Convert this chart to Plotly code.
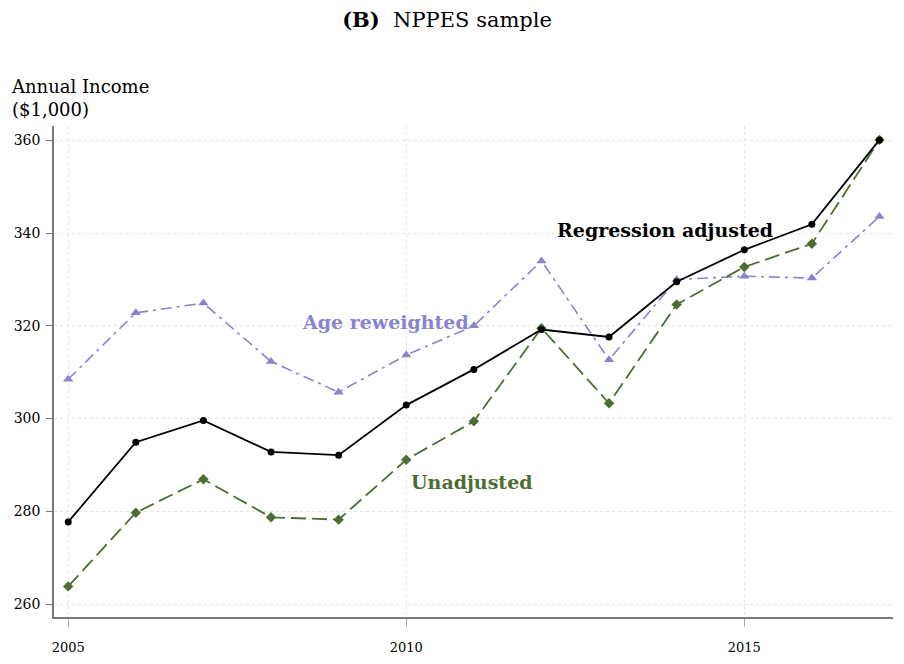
import plotly.graph_objects as go

years = list(range(2005, 2018))
regression_adjusted = [277.7, 294.9, 299.6, 292.8, 292.1, 302.9, 310.6, 319.2, 317.6, 329.5, 336.4, 341.9, 360.1]
age_reweighted = [308.5, 322.8, 324.9, 312.3, 305.7, 313.7, 320.0, 334.0, 312.7, 330.0, 330.7, 330.3, 343.6]
unadjusted = [263.8, 279.7, 286.9, 278.7, 278.2, 291.1, 299.4, 319.5, 303.3, 324.6, 332.7, 337.7, 360.1]

x_ticks = [2005, 2010, 2015]
y_ticks = [260, 280, 300, 320, 340, 360]

BLACK = "#000000"
PURPLE = "#8a84ce"
GREEN = "#4d6e32"
FONT = "DejaVu Serif"

fig = go.Figure()

fig.add_trace(go.Scatter(
    x=years, y=age_reweighted, mode="lines+markers", name="Age reweighted",
    line=dict(color=PURPLE, width=1.6, dash="11px,5px,3px,5px"),
    marker=dict(symbol="triangle-up", size=9, color=PURPLE),
))
fig.add_trace(go.Scatter(
    x=years, y=unadjusted, mode="lines+markers", name="Unadjusted",
    line=dict(color=GREEN, width=1.8, dash="15px,6px"),
    marker=dict(symbol="diamond", size=8, color=GREEN),
))
fig.add_trace(go.Scatter(
    x=years, y=regression_adjusted, mode="lines+markers", name="Regression adjusted",
    line=dict(color=BLACK, width=1.8),
    marker=dict(symbol="circle", size=7, color=BLACK),
))

# in-plot series labels
labels = [
    ("<b>Regression adjusted</b>", 2013.83, 340.7, BLACK),
    ("<b>Age reweighted</b>", 2009.69, 320.8, PURPLE),
    ("<b>Unadjusted</b>", 2010.97, 286.4, GREEN),
]
for text, lx, ly, col in labels:
    fig.add_annotation(x=lx, y=ly, text=text, showarrow=False,
                       font=dict(family=FONT, size=19, color=col))

fig.add_annotation(xref="paper", yref="paper", x=-0.054, y=1.0, yshift=4,
                   xanchor="left", yanchor="bottom", align="left",
                   text="Annual Income<br>($1,000)", showarrow=False,
                   font=dict(family=FONT, size=18, color=BLACK))

fig.update_layout(
    width=896, height=656,
    margin=dict(l=46, r=11, t=118, b=47),
    paper_bgcolor="white", plot_bgcolor="white",
    showlegend=False,
    title=dict(text="<b>(B)</b>  NPPES sample", x=0.49, xanchor="center",
               y=0.982, yanchor="middle",
               font=dict(family=FONT, size=21, color=BLACK)),
    font=dict(family=FONT, color=BLACK),
    xaxis=dict(
        range=[2004.79, 2017.2], tickvals=x_ticks, ticks="outside", ticklen=8,
        tickcolor="#aaaaaa", showline=True, linecolor="#777777", linewidth=1.5,
        showgrid=True, gridcolor="#e4e4e4", griddash="dot", gridwidth=1,
        zeroline=False, tickfont=dict(family=FONT, size=13), ticklabelstandoff=10,
        automargin=False,
    ),
    yaxis=dict(
        range=[257.2, 363.1], tickvals=y_ticks, ticks="outside", ticklen=6,
        tickcolor="#777777", showline=True, linecolor="#777777", linewidth=1.5,
        showgrid=True, gridcolor="#e4e4e4", griddash="dot", gridwidth=1,
        zeroline=False, tickfont=dict(family=FONT, size=14), ticklabelstandoff=3,
        automargin=False,
    ),
)

fig.write_html("out.html")
